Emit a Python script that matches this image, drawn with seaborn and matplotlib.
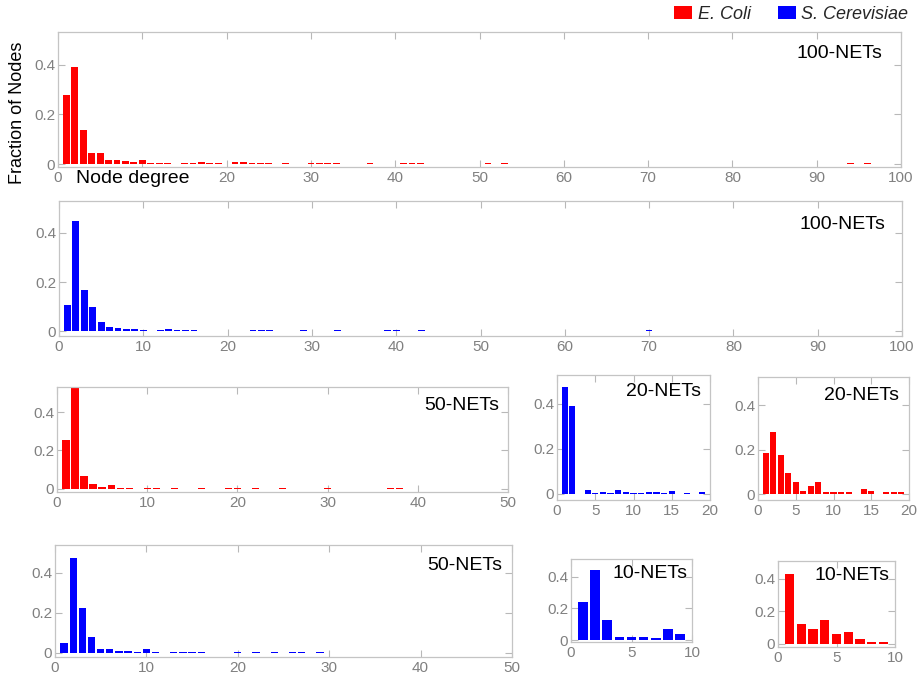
import matplotlib
matplotlib.use("Agg")
import matplotlib.pyplot as plt
from matplotlib.patches import Patch
import pandas as pd
import seaborn as sns

# ---- degree distributions (fraction of nodes per node degree) ----
ecoli100_deg = [1, 2, 3, 4, 5, 6, 7, 8, 9, 10, 11, 12, 13, 15, 16, 17, 18, 19,
                21, 22, 23, 24, 25, 27, 30, 31, 32, 33, 37, 41, 42, 43, 51, 53, 94, 96]
ecoli100_frac = [0.278, 0.390, 0.137, 0.045, 0.045, 0.016, 0.018, 0.014, 0.009, 0.016,
                 0.004, 0.006, 0.004, 0.004, 0.004, 0.007, 0.004, 0.006,
                 0.007, 0.007, 0.004, 0.004, 0.004, 0.003, 0.004, 0.004, 0.004, 0.004,
                 0.003, 0.004, 0.004, 0.004, 0.003, 0.003, 0.003, 0.003]

yeast100_deg = [1, 2, 3, 4, 5, 6, 7, 8, 9, 10, 12, 13, 14, 15, 16,
                23, 24, 25, 29, 33, 39, 40, 43, 70]
yeast100_frac = [0.106, 0.448, 0.166, 0.098, 0.038, 0.018, 0.011, 0.008, 0.008, 0.004,
                 0.003, 0.008, 0.006, 0.006, 0.003,
                 0.003, 0.003, 0.003, 0.003, 0.003, 0.003, 0.003, 0.003, 0.003]

ecoli50_deg = [1, 2, 3, 4, 5, 6, 7, 8, 10, 11, 13, 16, 19, 20, 22, 25, 30, 37, 38]
ecoli50_frac = [0.253, 0.56, 0.069, 0.024, 0.012, 0.019, 0.007, 0.007, 0.004, 0.007,
                0.003, 0.003, 0.003, 0.003, 0.003, 0.003, 0.003, 0.003, 0.003]

yeast20_deg = [1, 2, 4, 5, 6, 7, 8, 9, 10, 11, 12, 13, 14, 15, 17, 19]
yeast20_frac = [0.475, 0.39, 0.018, 0.006, 0.009, 0.006, 0.018, 0.010, 0.006, 0.005,
                0.009, 0.009, 0.006, 0.013, 0.005, 0.008]

ecoli20_deg = [1, 2, 3, 4, 5, 6, 7, 8, 9, 10, 11, 12, 14, 15, 17, 18, 19]
ecoli20_frac = [0.185, 0.28, 0.177, 0.096, 0.055, 0.015, 0.035, 0.055, 0.01, 0.01,
                0.01, 0.01, 0.022, 0.015, 0.009, 0.009, 0.009]

yeast50_deg = [1, 2, 3, 4, 5, 6, 7, 8, 9, 10, 11, 13, 14, 15, 16, 20, 22, 24, 26, 27, 29]
yeast50_frac = [0.048, 0.471, 0.226, 0.078, 0.021, 0.021, 0.012, 0.012, 0.007, 0.018,
                0.004, 0.003, 0.005, 0.004, 0.004, 0.003, 0.003, 0.003, 0.003, 0.003, 0.003]

yeast10_deg = [1, 2, 3, 4, 5, 6, 7, 8, 9]
yeast10_frac = [0.24, 0.443, 0.129, 0.02, 0.02, 0.02, 0.015, 0.071, 0.041]

ecoli10_deg = [1, 2, 3, 4, 5, 6, 7, 8, 9]
ecoli10_frac = [0.43, 0.124, 0.093, 0.148, 0.058, 0.07, 0.029, 0.012, 0.012]

panel_titles = ["100-NETs", "100-NETs", "50-NETs", "20-NETs", "20-NETs",
                "50-NETs", "10-NETs", "10-NETs"]
species = ["E. Coli", "S. Cerevisiae"]
ytick_vals = [0, 0.2, 0.4]
ytick_text = ["0", "0.2", "0.4"]

RED, BLUE = "#ff0000", "#0000ff"

sns.set_theme(style="white")
plt.rcParams["font.family"] = ["Liberation Sans", "DejaVu Sans"]

W, H = 919, 679
fig = plt.figure(figsize=(W / 100, H / 100), dpi=100)


def box(l, t, r, b):
    return [l / W, 1 - b / H, (r - l) / W, (b - t) / H]


# (deg, frac, colour, pixel box, xmax, xstep, ylim, title offset)
panels = [
    (ecoli100_deg, ecoli100_frac, RED, box(58, 32, 901, 167), 100, 10, (-0.012, 0.533), (19, 21)),
    (yeast100_deg, yeast100_frac, BLUE, box(59, 201, 902, 336), 100, 10, (-0.02, 0.53), (17, 23)),
    (ecoli50_deg, ecoli50_frac, RED, box(57, 387, 508, 492), 50, 10, (-0.016, 0.53), (9, 18)),
    (yeast20_deg, yeast20_frac, BLUE, box(557, 375, 710, 500), 20, 5, (-0.027, 0.527), (9, 17)),
    (ecoli20_deg, ecoli20_frac, RED, box(758, 377, 909, 500), 20, 5, (-0.027, 0.527), (10, 19)),
    (yeast50_deg, yeast50_frac, BLUE, box(55, 545, 512, 657), 50, 10, (-0.02, 0.537), (10, 20)),
    (yeast10_deg, yeast10_frac, BLUE, box(571, 559, 692, 642), 10, 5, (-0.01, 0.51), (4, 14)),
    (ecoli10_deg, ecoli10_frac, RED, box(778, 561, 895, 647), 10, 5, (-0.02, 0.51), (5, 14)),
]

for i, ((deg, frac, col, rect, xmax, xstep, ylim, toff), title) in enumerate(zip(panels, panel_titles)):
    ax = fig.add_axes(rect)
    df = pd.DataFrame({"degree": deg, "fraction": frac})
    sns.barplot(data=df, x="degree", y="fraction", native_scale=True, color=col,
                saturation=1, width=0.8, linewidth=0, errorbar=None, ax=ax)
    ax.set_xlim(0, xmax)
    ax.set_ylim(*ylim)
    xt = list(range(0, xmax + 1, xstep))
    xl = [str(v) for v in xt]
    if i == 0:
        # the axis caption sits where the "10" label would be
        xl[1] = ""
    ax.set_xticks(xt)
    ax.set_xticklabels(xl)
    ax.set_yticks(ytick_vals)
    ax.set_yticklabels(ytick_text)
    ax.set_xlabel("")
    ax.set_ylabel("")
    ax.tick_params(direction="in", length=5, width=0.8, color="#b8b8b8",
                   labelcolor="#808080", labelsize=11, top=True, right=True,
                   bottom=True, left=True)
    ax.tick_params(axis="x", pad=3)
    ax.tick_params(axis="y", pad=2)
    for sp in ax.spines.values():
        sp.set_color("#c4c4c4")
        sp.set_linewidth(0.9)
    ax.annotate(title, xy=(1, 1), xycoords="axes fraction",
                xytext=(-toff[0], -toff[1]), textcoords="offset pixels",
                ha="right", va="center", fontsize=14, color="black")

fig.text(18 / W, 1 - 113 / H, "Fraction of Nodes", rotation=90,
         ha="center", va="center", fontsize=13, color="black")
fig.text(76 / W, 1 - 179 / H, "Node degree", ha="left", va="center",
         fontsize=14, color="black")

handles = [Patch(facecolor=RED, edgecolor="none"), Patch(facecolor=BLUE, edgecolor="none")]
fig.legend(handles, species, loc="upper right", bbox_to_anchor=(912 / W, 1 - 2 / H),
           ncol=2, frameon=False, handlelength=1.0, handleheight=0.7,
           handletextpad=0.3, columnspacing=1.5, borderaxespad=0, borderpad=0.2,
           prop={"family": "Liberation Sans", "style": "italic", "size": 13})

fig.savefig("out.png", dpi=100)
